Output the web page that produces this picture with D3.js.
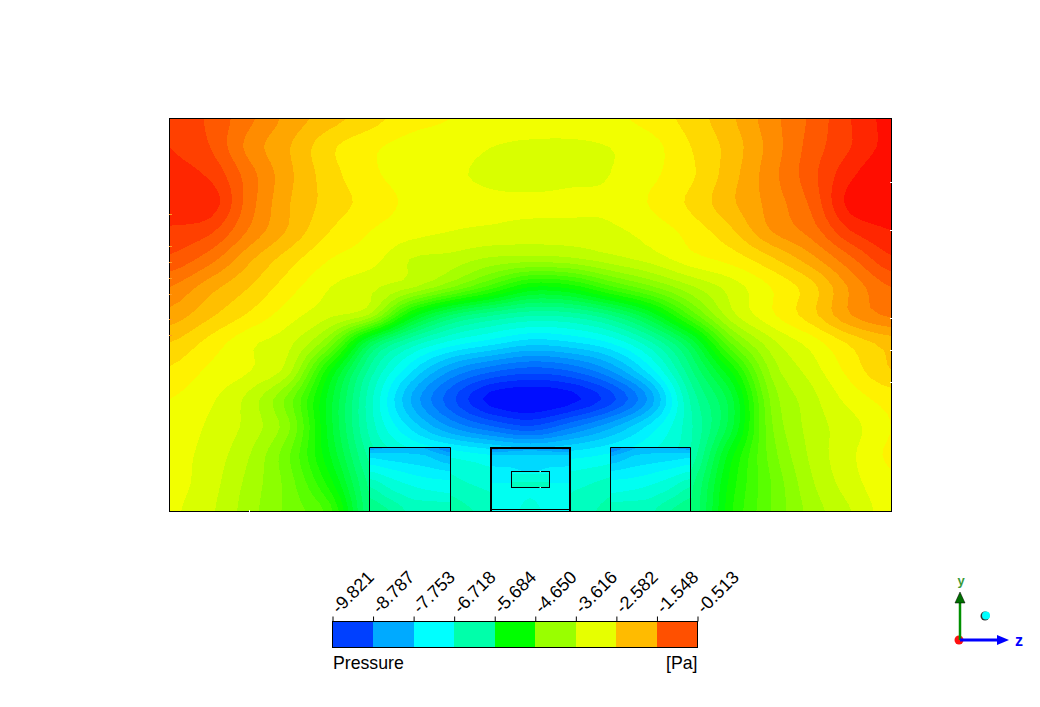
<!DOCTYPE html>
<html>
<head>
<meta charset="utf-8">
<title>Pressure contour</title>
<script src="https://cdn.jsdelivr.net/npm/d3@7"></script>
<style>
html,body{margin:0;padding:0;background:#fff;overflow:hidden}
svg{display:block}
text{font-family:"Liberation Sans",Arial,sans-serif;fill:#000}
</style>
</head>
<body>
<script>
// Pressure [Pa], rows top to bottom, columns left to right
const pressureRows = [
[-1.02,-1.26,-1.63,-2.00,-2.28,-2.51,-2.75,-2.84,-2.93,-2.93,-2.93,-2.89,-2.75,-2.51,-2.19,-1.77,-1.40,-0.98,-0.65],
[-0.98,-1.21,-1.77,-2.14,-2.56,-2.79,-2.93,-2.98,-3.07,-3.12,-3.12,-3.07,-2.93,-2.61,-2.28,-1.82,-1.35,-0.98,-0.65],
[-0.89,-1.02,-1.58,-2.10,-2.51,-2.79,-2.93,-3.03,-3.12,-3.17,-3.12,-3.07,-2.89,-2.65,-2.24,-1.77,-1.30,-0.79,-0.51],
[-0.84,-0.84,-1.58,-2.14,-2.47,-2.70,-2.89,-2.98,-3.03,-3.03,-3.03,-3.03,-2.82,-2.56,-2.19,-1.82,-1.40,-0.65,-0.61],
[-1.02,-1.16,-1.72,-2.19,-2.61,-2.84,-2.98,-3.07,-3.12,-3.17,-3.17,-3.12,-2.98,-2.75,-2.42,-1.91,-1.58,-0.98,-0.75],
[-1.26,-1.58,-2.10,-2.51,-2.84,-2.98,-3.31,-3.40,-3.58,-3.63,-3.58,-3.40,-3.21,-2.93,-2.75,-2.42,-2.00,-1.49,-1.02],
[-1.68,-2.05,-2.38,-2.75,-3.07,-3.26,-3.49,-3.96,-4.56,-5.17,-5.07,-4.52,-4.05,-3.58,-3.21,-2.84,-2.47,-1.86,-1.44],
[-2.00,-2.33,-2.65,-2.98,-3.26,-3.58,-5.17,-6.10,-6.52,-6.75,-6.70,-6.33,-5.58,-4.42,-3.40,-2.89,-2.47,-1.91,-1.63],
[-2.38,-2.70,-3.03,-3.26,-4.05,-5.91,-6.84,-7.35,-7.63,-7.87,-7.77,-7.49,-6.84,-5.82,-4.24,-3.40,-2.98,-2.56,-2.28],
[-2.65,-2.89,-3.07,-3.49,-5.17,-6.66,-7.68,-8.43,-8.84,-9.03,-8.89,-8.43,-7.59,-6.38,-5.17,-3.72,-3.21,-2.75,-2.38],
[-2.84,-3.03,-3.40,-4.14,-5.54,-6.94,-8.19,-9.03,-9.68,-9.82,-9.68,-9.22,-8.33,-6.75,-5.73,-3.96,-3.40,-2.98,-2.75],
[-2.89,-3.12,-3.40,-4.00,-5.54,-6.89,-7.77,-8.43,-8.84,-9.08,-8.70,-8.24,-7.63,-6.84,-5.73,-4.05,-3.45,-3.17,-2.84],
[-2.98,-3.17,-3.54,-4.24,-5.40,-6.66,-7.12,-7.31,-7.49,-7.63,-7.59,-7.45,-7.21,-6.75,-5.26,-4.14,-3.49,-3.12,-2.79],
[-2.98,-3.21,-3.63,-4.14,-5.07,-6.42,-6.70,-6.94,-7.12,-7.21,-7.12,-6.94,-6.70,-6.42,-5.07,-4.24,-3.58,-3.17,-2.89],
[-3.03,-3.26,-3.68,-4.10,-4.61,-6.33,-6.47,-6.66,-6.89,-7.03,-6.94,-6.70,-6.47,-6.33,-4.98,-4.24,-3.68,-3.31,-2.93]
];
const leftBoxPressure = [
[-8.33,-8.19,-8.10,-8.29,-8.70],
[-7.82,-7.87,-7.91,-8.00,-8.24],
[-7.12,-7.31,-7.45,-7.54,-7.59],
[-6.66,-6.94,-7.12,-7.21,-7.26],
[-6.38,-6.56,-6.84,-6.84,-6.84]
];
const midBoxPressure = [
[-8.70,-8.43,-8.33,-8.43,-8.70],
[-7.96,-7.96,-7.96,-7.96,-7.96],
[-7.59,-7.59,-7.68,-7.59,-7.59],
[-7.40,-7.40,-7.31,-7.40,-7.40],
[-7.31,-7.31,-7.21,-7.31,-7.31]
];
const rightBoxPressure = [
[-8.70,-8.29,-8.10,-8.19,-8.33],
[-8.24,-8.00,-7.91,-7.87,-7.82],
[-7.59,-7.54,-7.45,-7.31,-7.12],
[-7.26,-7.21,-7.12,-6.94,-6.66],
[-6.84,-6.84,-6.84,-6.56,-6.38]
];
const innerBoxPressure = [
[-7.31,-7.31,-7.31],
[-6.94,-6.94,-6.94]
];
const boxRowHeights = [2.29,2.0,1.25,0.64,0];
const innerRowHeights = [1.43,0.86];
const boxes = [
  {name:"left", z:[5,7], values:leftBoxPressure},
  {name:"middle", z:[8,10], values:midBoxPressure},
  {name:"right", z:[11,13], values:rightBoxPressure}
];
const legendTicks = ["-9.821","-8.787","-7.753","-6.718","-5.684","-4.650","-3.616","-2.582","-1.548","-0.513"];
const legendColors = ["#0040ff","#00aaff","#00ffff","#00ffaa","#00ff00","#99ff00","#e6ff00","#ffbb00","#ff5000"];
const legendTitle = "Pressure";
const legendUnit = "[Pa]";
const leftEdgeMarks = [10.61,9.46,8.89,8.32,7.75,6.86,6.29];
const rightEdgeMarks = [11.75,10.04,6.89,5.75,4.61];

const PMIN=-9.821, PMAX=-0.513, BANDS=40, SMOOTH=4;
const W=1040,H=707;
const svg=d3.select("body").append("svg").attr("width",W).attr("height",H);

const xField=d3.scaleLinear().domain([0,18]).range([170,891]);
const x=d3.scaleLinear().domain([0,18]).range([170,890]);
const y=d3.scaleLinear().domain([0,14]).range([511,119]);
const mid=(PMIN+PMAX)/2;
const color=d3.scaleLinear()
  .domain([PMIN,(PMIN+mid)/2,mid,(mid+PMAX)/2,PMAX])
  .range(["#0000ff","#00ffff","#00ff00","#ffff00","#ff0000"]);
const step=(PMAX-PMIN)/BANDS;
const thresholds=d3.range(BANDS).map(i=>PMIN+i*step);

// render-time resampling so band edges are drawn as curves rather than grid facets
function cr(a,b,c,d,t){
  return 0.5*(2*b+(c-a)*t+(2*a-5*b+4*c-d)*t*t+(3*b-a-3*c+d)*t*t*t);
}
function resample1(arr,k){
  const out=[],n=arr.length;
  for(let i=0;i<n-1;i++){
    const a=arr[Math.max(i-1,0)],b=arr[i],c=arr[i+1],d=arr[Math.min(i+2,n-1)];
    for(let j=0;j<k;j++) out.push(cr(a,b,c,d,j/k));
  }
  out.push(arr[n-1]);
  return out;
}
function resample(rows,k){
  const h=rows.map(r=>resample1(r,k));
  const cols=d3.transpose(h).map(c=>resample1(c,k));
  return d3.transpose(cols);
}

const defs=svg.append("defs");
function drawField(parent,rows,xs,zRange,heights,id){
  const m0=rows.length;
  const fine=resample(rows,SMOOTH);
  const n=fine[0].length,m=fine.length;
  const gx=d3.scaleLinear().domain([0,n-1]).range(zRange);
  const gy=d3.scaleLinear().domain(d3.range(m0).map(i=>i*SMOOTH)).range(heights);
  const hAt=v=>{
    if(v<0) return heights[0]+(heights[0]-heights[1])*(-v/SMOOTH);
    if(v>m-1) return heights[m0-1]-(heights[m0-2]-heights[m0-1])*((v-(m-1))/SMOOTH);
    return gy(v);
  };
  const toPx=d3.geoTransform({point(a,b){ this.stream.point(xs(gx(a-0.5)),y(hAt(b-0.5))); }});
  defs.append("clipPath").attr("id",id).append("rect")
    .attr("x",xs(zRange[0])).attr("y",y(heights[0]))
    .attr("width",xs(zRange[1])-xs(zRange[0]))
    .attr("height",y(heights[m0-1])-y(heights[0]));
  const contours=d3.contours().size([n,m]).thresholds(thresholds).smooth(true)(fine.flat().map(v=>Math.max(v,PMIN)));
  const path=d3.geoPath(toPx);
  parent.append("g").attr("clip-path",`url(#${id})`).attr("shape-rendering","crispEdges")
    .selectAll("path").data(contours).join("path")
    .attr("d",path)
    .attr("fill",d=>color(d.value+step/2));
}

drawField(svg,pressureRows,xField,[0,18],d3.range(14,-1,-1),"clipMain");
boxes.forEach(b=>drawField(svg,b.values,x,b.z,boxRowHeights,"clip-"+b.name));
drawField(svg,innerBoxPressure,x,[8.525,9.475],innerRowHeights,"clip-inner");

// geometry outlines
const outlines=svg.append("g").attr("fill","none").attr("stroke","#000");
boxes.forEach(b=>{
  const thick=b.name==="middle";
  const x0=x(b.z[0])+(thick?1:(b.name==="left"?-0.5:0.5));
  const x1=x(b.z[1])+(thick?0:0.5);
  const top=Math.round(y(boxRowHeights[0]))+(thick?1:0.5);
  outlines.append("path")
    .attr("d",d3.line()([[x0,y(0)],[x0,top],[x1,top],[x1,y(0)]]))
    .attr("stroke-width",thick?2:1);
});
outlines.append("line").attr("x1",x(8)+1).attr("x2",x(10)).attr("y1",509.5).attr("y2",509.5);
outlines.append("rect").attr("x",Math.round(x(8.525))+0.5).attr("y",Math.round(y(1.43))+0.5)
  .attr("width",Math.round(x(9.475)-x(8.525))).attr("height",Math.round(y(0.86)-y(1.43)));
// small breaks in the inner outline
svg.append("g").attr("stroke","#c8fff0").selectAll("line").data([1.43,0.86]).join("line")
  .attr("x1",x(9.24)).attr("x2",x(9.26)+0.5)
  .attr("y1",d=>Math.round(y(d))+0.5).attr("y2",d=>Math.round(y(d))+0.5);

// frame
svg.append("rect").attr("x",169.5).attr("y",118.5).attr("width",722).attr("height",393)
  .attr("fill","none").attr("stroke","#000");
// small light marks on the frame
svg.append("g").attr("stroke","#fff").selectAll("line").data(rightEdgeMarks).join("line")
  .attr("x1",890).attr("x2",893).attr("y1",d=>Math.round(y(d))+0.5).attr("y2",d=>Math.round(y(d))+0.5);
svg.append("g").attr("stroke","#ff9a20").selectAll("line").data(leftEdgeMarks).join("line")
  .attr("x1",169).attr("x2",172).attr("y1",d=>Math.round(y(d))+0.5).attr("y2",d=>Math.round(y(d))+0.5);
svg.append("line").attr("x1",x(2)-0.5).attr("x2",x(2)-0.5).attr("y1",510).attr("y2",512).attr("stroke","#fff");

// legend
const lx=d3.scaleLinear().domain([0,9]).range([332.5,697.5]);
const legend=svg.append("g");
legend.append("g").attr("shape-rendering","crispEdges").selectAll("rect").data(legendColors).join("rect")
  .attr("x",(d,i)=>lx(i)).attr("y",622)
  .attr("width",(d,i)=>lx(i+1)-lx(i)).attr("height",25.5)
  .attr("fill",d=>d);
legend.append("rect").attr("x",lx(0)).attr("y",621.5).attr("width",lx(9)-lx(0)).attr("height",26)
  .attr("fill","none").attr("stroke","#000");
const axis=d3.axisTop(lx).tickValues(d3.range(10)).tickFormat(i=>legendTicks[i]).tickSize(5).tickSizeOuter(0);
const ag=legend.append("g").attr("transform","translate(0,621.5)").call(axis);
ag.select(".domain").remove();
ag.selectAll("line").attr("stroke","#000");
ag.selectAll("text").attr("font-size",18).attr("fill","#000")
  .attr("text-anchor","start")
  .attr("dy",0).attr("y",0)
  .attr("transform","translate(6,-7) rotate(-45)");
legend.append("text").attr("x",333).attr("y",669).attr("font-size",17.7).text(legendTitle);
legend.append("text").attr("x",697.5).attr("y",669).attr("font-size",17.7).attr("text-anchor","end").text(legendUnit);

// orientation triad
const t=svg.append("g");
const ax={ox:960,oy:640};
t.append("circle").attr("cx",985).attr("cy",616).attr("r",4.5).attr("fill","#333");
t.append("circle").attr("cx",986).attr("cy",615.5).attr("r",4).attr("fill","#00ffff");
t.append("circle").attr("cx",ax.ox-1).attr("cy",ax.oy).attr("r",4.5).attr("fill","#ff1010");
t.append("line").attr("x1",ax.ox).attr("x2",ax.ox).attr("y1",ax.oy).attr("y2",600).attr("stroke","#009000").attr("stroke-width",2.5);
t.append("path").attr("d",d3.line()([[ax.ox,592],[ax.ox+5,603],[ax.ox-5,603]])+"Z").attr("fill","#007000").attr("stroke","#000").attr("stroke-width",0.5);
t.append("line").attr("x1",ax.ox).attr("x2",1000).attr("y1",ax.oy).attr("y2",ax.oy).attr("stroke","#0000ff").attr("stroke-width",3);
t.append("path").attr("d",d3.line()([[1009,ax.oy],[997,ax.oy-5],[997,ax.oy+5]])+"Z").attr("fill","#0000ff");
t.append("text").attr("x",961).attr("y",585).attr("text-anchor","middle").attr("font-size",13).attr("font-weight","bold").style("fill","#3a9a3a").text("y");
t.append("text").attr("x",1019).attr("y",646).attr("text-anchor","middle").attr("font-size",16).attr("font-weight","bold").style("fill","#0000ff").text("z");
</script>
</body>
</html>
